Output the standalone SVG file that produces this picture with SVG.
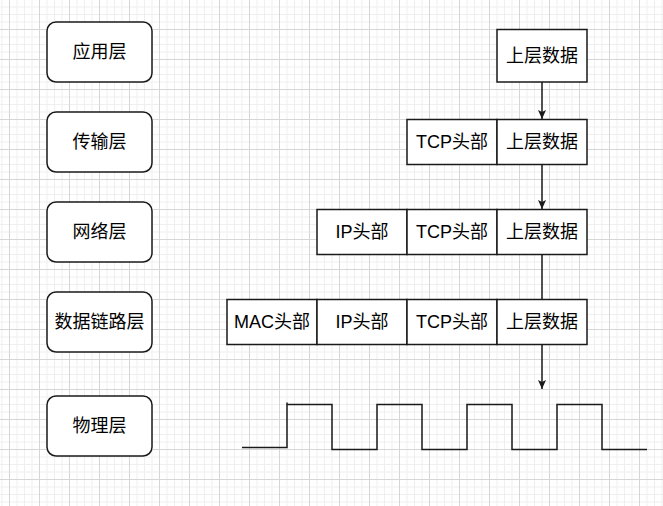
<svg xmlns="http://www.w3.org/2000/svg" width="663" height="506" viewBox="0 0 663 506">
<style>
.layer{fill:#fff;stroke:#1a1a1a;stroke-width:1.5}
.cell{fill:#fff;stroke:#1a1a1a;stroke-width:1.5}
.t{font-family:"Liberation Sans","Noto Sans CJK SC",sans-serif;font-size:18px;fill:#000;text-anchor:middle;dominant-baseline:central}
.conn{stroke:#1a1a1a;stroke-width:1.5;fill:none}
</style>
<defs>
<pattern id="grid" patternUnits="userSpaceOnUse" x="9" y="29" width="30" height="30">
<path d="M8 0V30M15.5 0V30M23 0V30M0 8H30M0 15.5H30M0 23H30" stroke="#efefef" stroke-width="1" fill="none"/>
<path d="M0.5 0V30M0 0.5H30" stroke="#d6d6d6" stroke-width="1" fill="none"/>
</pattern>
<marker id="arr" markerUnits="userSpaceOnUse" markerWidth="10" markerHeight="10" viewBox="0 0 10 10" refX="9" refY="5" orient="auto">
<path d="M0 1 L9 5 L0 9 L2 5 Z" fill="#1a1a1a"/>
</marker>
</defs>
<rect width="663" height="506" fill="#fff"/>
<rect width="663" height="506" fill="url(#grid)"/>
<g id="connectors">
<path class="conn" d="M542 82V119" marker-end="url(#arr)"/>
<path class="conn" d="M542 164V209" marker-end="url(#arr)"/>
<path class="conn" d="M542 254V299"/>
<path class="conn" d="M542 344V389" marker-end="url(#arr)"/>
</g>
<g id="layer-app"><rect class="layer" x="47" y="22" width="105" height="60" rx="9"/><text class="t" x="99.5" y="52">应用层</text></g>
<g id="layer-transport"><rect class="layer" x="47" y="112" width="105" height="60" rx="9"/><text class="t" x="99.5" y="142">传输层</text></g>
<g id="layer-network"><rect class="layer" x="47" y="202" width="105" height="60" rx="9"/><text class="t" x="99.5" y="232">网络层</text></g>
<g id="layer-link"><rect class="layer" x="47" y="292" width="105" height="60" rx="9"/><text class="t" x="99.5" y="322">数据链路层</text></g>
<g id="layer-physical"><rect class="layer" x="47" y="396" width="105" height="60" rx="9"/><text class="t" x="99.5" y="426">物理层</text></g>
<g id="row1-data"><rect class="cell" x="497" y="29.5" width="90" height="52.5"/><text class="t" x="542" y="56">上层数据</text></g>
<g id="row2-tcp"><rect class="cell" x="407" y="119.5" width="90" height="45"/><text class="t" x="452" y="142">TCP头部</text></g>
<g id="row2-data"><rect class="cell" x="497" y="119.5" width="90" height="45"/><text class="t" x="542" y="142">上层数据</text></g>
<g id="row3-ip"><rect class="cell" x="317" y="209.5" width="90" height="45"/><text class="t" x="362" y="232">IP头部</text></g>
<g id="row3-tcp"><rect class="cell" x="407" y="209.5" width="90" height="45"/><text class="t" x="452" y="232">TCP头部</text></g>
<g id="row3-data"><rect class="cell" x="497" y="209.5" width="90" height="45"/><text class="t" x="542" y="232">上层数据</text></g>
<g id="row4-mac"><rect class="cell" x="227" y="299.5" width="90" height="45"/><text class="t" x="272" y="322">MAC头部</text></g>
<g id="row4-ip"><rect class="cell" x="317" y="299.5" width="90" height="45"/><text class="t" x="362" y="322">IP头部</text></g>
<g id="row4-tcp"><rect class="cell" x="407" y="299.5" width="90" height="45"/><text class="t" x="452" y="322">TCP头部</text></g>
<g id="row4-data"><rect class="cell" x="497" y="299.5" width="90" height="45"/><text class="t" x="542" y="322">上层数据</text></g>
<g id="signal">
<path class="conn" d="M242 447.5H287V402.5M287 404.5H332V449.5H377V404.5H422V449.5H467V404.5H512V449.5H557V404.5H602V449.5H647"/>
</g>
</svg>
